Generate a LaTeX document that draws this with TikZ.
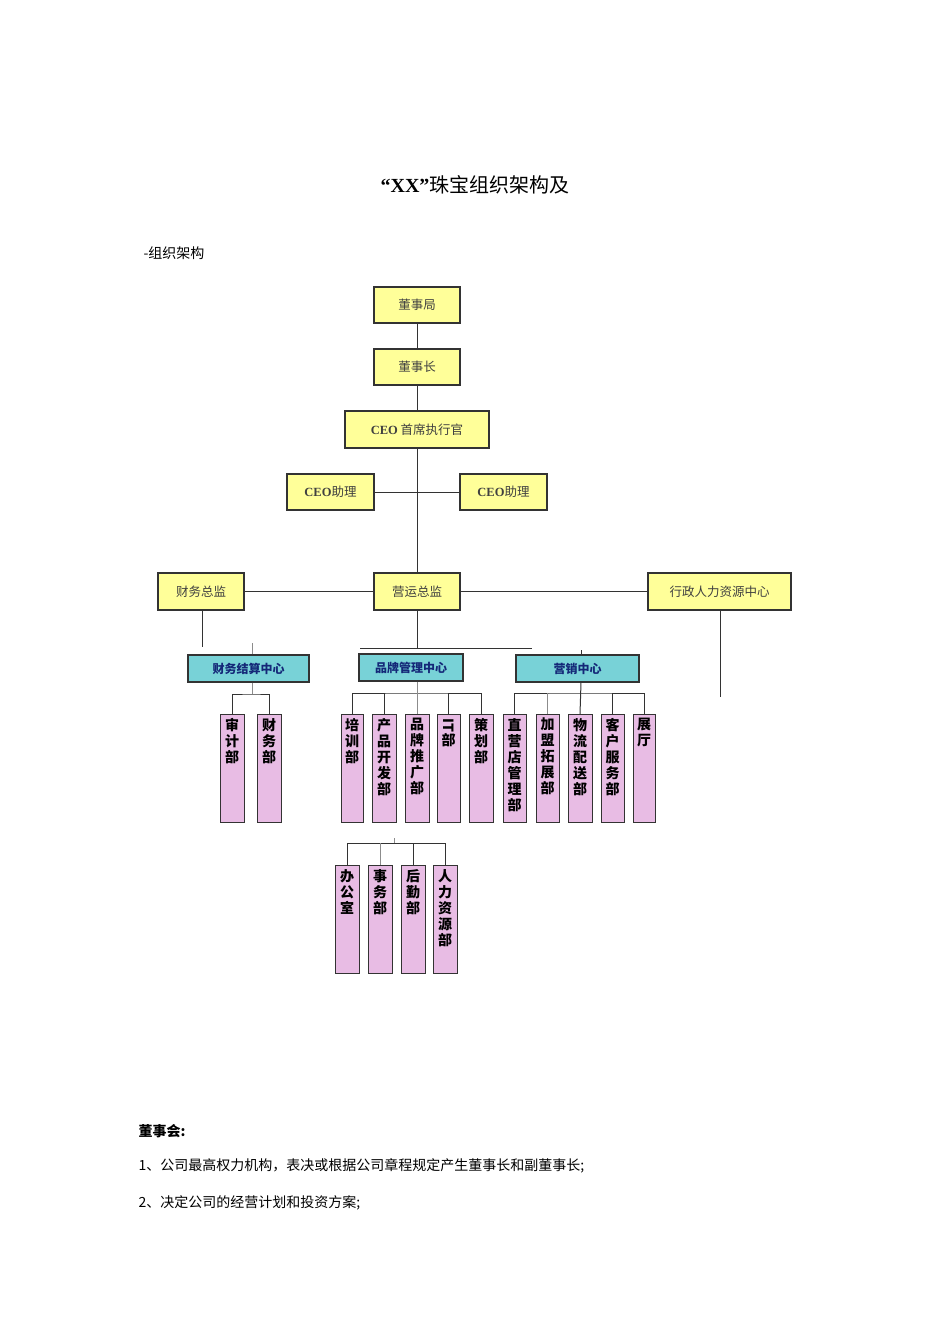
\documentclass[tikz,border=0pt]{standalone}
\usepackage{fontspec}
\setmainfont{Liberation Serif}
\newfontfamily\cjk{Noto Sans CJK SC}
\newcommand\ceo{{\rmfamily\bfseries CEO}}
\begin{document}
\begin{tikzpicture}[x=1pt,y=-1pt,
  yb/.style={draw=black!80,line width=1.2pt,fill={rgb,255:red,255;green,255;blue,153},font=\cjk\fontsize{12.5}{14}\selectfont,text=black!75},
  cb/.style={draw=black!80,line width=1.2pt,fill={rgb,255:red,120;green,210;blue,215},font=\cjk\bfseries\fontsize{12}{14}\selectfont,text={rgb,255:red,20;green,40;blue,120}},
  pb/.style={draw=black!80,line width=1pt,fill={rgb,255:red,232;green,188;blue,228}},
  pt/.style={anchor=north,align=center,font=\cjk\bfseries\fontsize{14}{16}\selectfont,inner sep=0pt},
  ln/.style={draw=black!80,line width=1pt},
  gl/.style={draw=black!45,line width=1pt}]
\useasboundingbox (0,0) rectangle (950,1344);
\newcommand\yb[6]{\node[yb,minimum width=#3-#2,minimum height=#5-#4,inner sep=0pt] (#1) at ({(#2+#3)/2},{(#4+#5)/2}) {#6};}
\newcommand\cbx[6]{\node[cb,minimum width=#3-#2,minimum height=#5-#4,inner sep=0pt] (#1) at ({(#2+#3)/2},{(#4+#5)/2}) {#6};}
\newcommand\pbx[6]{\path[pb] (#2,#4) rectangle (#3,#5); \node[pt] (#1) at ({(#2+#3)/2},#4+4) {#6};\coordinate (#1t) at ({(#2+#3)/2},#4);}
\node[font=\bfseries\fontsize{20}{24}\selectfont] (title) at (475,185) {“XX"{\cjk\mdseries 珠宝组织架构及}};
\node[anchor=west,font=\cjk\fontsize{14}{16}\selectfont] (sub) at (140,253) {-组织架构};
\yb{dsj}{374}{460}{287}{323}{董事局}
\yb{dsz}{374}{460}{349}{385}{董事长}
\yb{ceo}{345}{489}{411}{448}{\ceo{} 首席执行官}
\yb{zl1}{287}{374}{474}{510}{\ceo{}助理}
\yb{zl2}{460}{547}{474}{510}{\ceo{}助理}
\yb{cw}{158}{244}{573}{610}{财务总监}
\yb{yy}{374}{460}{573}{610}{营运总监}
\yb{xz}{648}{791}{573}{610}{行政人力资源中心}
\draw[ln] (dsj) -- (dsz); \draw[ln] (dsz) -- (ceo); \draw[ln] (ceo) -- (yy);
\draw[ln] (zl1) -- (zl2); \draw[ln] (cw) -- (yy); \draw[ln] (yy) -- (xz);
\coordinate (c1) at (202,647); \draw[ln] (cw.south -| c1) -- (c1);
\coordinate (c2) at (720,697); \draw[ln] (xz.south -| c2) -- (c2);
\coordinate (c3) at (417,648); \draw[ln] (yy) -- (c3);
\coordinate (h1) at (360,648); \coordinate (h2) at (532,648); \draw[ln] (h1) -- (h2);
\cbx{cj}{188}{309}{655}{682}{财务结算中心}
\cbx{pp}{359}{463}{654}{681}{品牌管理中心}
\cbx{yx}{516}{639}{655}{682}{营销中心}
\coordinate (s1) at (252,643); \draw[gl] (s1) -- (cj.north -| s1);
\coordinate (s2) at (581,650); \draw[ln] (s2) -- (yx.north -| s2);
\pbx{sj}{220}{244}{714}{822}{审\\计\\部}
\pbx{cwb}{257}{281}{714}{822}{财\\务\\部}
\pbx{px}{341}{363}{714}{822}{培\\训\\部}
\pbx{cp}{372}{396}{714}{822}{产\\品\\开\\发\\部}
\pbx{tg}{405}{429}{714}{822}{品\\牌\\推\\广\\部}
\pbx{it}{437}{460}{714}{822}{\rotatebox{-90}{IT}\\部}
\pbx{ch}{469}{493}{714}{822}{策\\划\\部}
\pbx{zy}{503}{526}{714}{822}{直\\营\\店\\管\\理\\部}
\pbx{jm}{536}{559}{714}{822}{加\\盟\\拓\\展\\部}
\pbx{wl}{568}{592}{714}{822}{物\\流\\配\\送\\部}
\pbx{kf}{601}{624}{714}{822}{客\\户\\服\\务\\部}
\pbx{zt}{633}{655}{714}{822}{展\\厅}
\pbx{bg}{335}{359}{865}{973}{办\\公\\室}
\pbx{sw}{368}{392}{865}{973}{事\\务\\部}
\pbx{hq}{401}{425}{865}{973}{后\\勤\\部}
\pbx{rl}{433}{457}{865}{973}{人\\力\\资\\源\\部}
% finance
\coordinate (f1) at (252,694);
\draw[gl] (cj.south -| f1) -- (f1);
\draw[ln] (sjt) |- (f1) -| (cwbt);
% brand
\coordinate (b1) at (417,693);
\draw[gl] (pp.south -| b1) -- (b1);
\draw[ln] (pxt) |- (b1) -| (cht);
\draw[ln] (cpt) -- (cpt |- b1); \draw[gl] (tgt) -- (tgt |- b1); \draw[ln] (itt) -- (itt |- b1);
% marketing
\coordinate (m1) at (581,693);
\draw[ln] (yx.south -| m1) -- (wlt);
\draw[ln] (zyt) |- (m1) -| (ztt);
\draw[gl] (jmt) -- (jmt |- m1); \draw[ln] (kft) -- (kft |- m1);
% bottom group
\coordinate (g1) at (394,838); \coordinate (g2) at (394,843);
\draw[gl] (g1) -- (g2);
\draw[ln] (bgt) |- (g2) -| (rlt);
\draw[gl] (swt) -- (swt |- g2); \draw[ln] (hqt) -- (hqt |- g2);
\node[anchor=west,font=\cjk\bfseries\fontsize{14}{16}\selectfont] (dsh) at (135,1131) {董事会:};
\node[anchor=west,font=\cjk\fontsize{14}{16}\selectfont] (l1) at (135,1166) {1、公司最高权力机构，表决或根据公司章程规定产生董事长和副董事长;};
\node[anchor=west,font=\cjk\fontsize{14}{16}\selectfont] (l2) at (135,1203) {2、决定公司的经营计划和投资方案;};
\end{tikzpicture}
\end{document}
